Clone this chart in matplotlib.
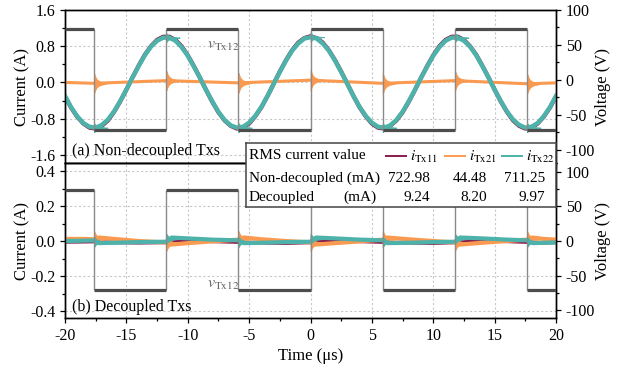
import numpy as np
import matplotlib
matplotlib.use("Agg")
import matplotlib.pyplot as plt
from matplotlib.ticker import MultipleLocator, FormatStrFormatter

plt.rcParams["font.family"] = ["Liberation Serif", "DejaVu Serif"]
plt.rcParams["mathtext.fontset"] = "stix"
plt.rcParams["axes.unicode_minus"] = False
plt.rcParams["font.size"] = 11

C_TX11 = "#8b1a4b"
C_TX21 = "#fa9a50"
C_TX22 = "#4db2aa"
C_V = "#4d4d4d"

# ---- data ----
t_top = np.arange(-20, 20.01, 0.5)  # us
i_tx11_top = [-0.31, -0.56, -0.76, -0.91, -1.00, -1.02, -0.96, -0.84, -0.65, -0.42,
              -0.16, 0.11, 0.37, 0.61, 0.80, 0.94, 1.01, 1.01, 0.94, 0.80,
              0.60, 0.36, 0.10, -0.17, -0.43, -0.66, -0.84, -0.96, -1.02, -1.00,
              -0.91, -0.75, -0.55, -0.30, -0.03, 0.24, 0.49, 0.71, 0.88, 0.98,
              1.02, 0.98, 0.88, 0.71, 0.49, 0.24, -0.03, -0.30, -0.55, -0.75,
              -0.91, -1.00, -1.02, -0.96, -0.84, -0.66, -0.43, -0.17, 0.10, 0.36,
              0.60, 0.80, 0.94, 1.01, 1.01, 0.94, 0.80, 0.61, 0.37, 0.11,
              -0.16, -0.42, -0.65, -0.84, -0.96, -1.02, -1.00, -0.91, -0.76, -0.56,
              -0.31]
i_tx22_top = [-0.30, -0.55, -0.75, -0.90, -0.98, -1.00, -0.94, -0.82, -0.64, -0.41,
              -0.16, 0.11, 0.36, 0.60, 0.79, 0.92, 0.99, 0.99, 0.92, 0.78,
              0.59, 0.35, 0.10, -0.17, -0.42, -0.65, -0.83, -0.95, -1.00, -0.98,
              -0.89, -0.74, -0.54, -0.30, -0.03, 0.23, 0.48, 0.70, 0.86, 0.97,
              1.00, 0.97, 0.86, 0.70, 0.48, 0.23, -0.03, -0.30, -0.54, -0.74,
              -0.89, -0.98, -1.00, -0.95, -0.83, -0.65, -0.42, -0.17, 0.10, 0.35,
              0.59, 0.78, 0.92, 0.99, 0.99, 0.92, 0.79, 0.60, 0.36, 0.11,
              -0.16, -0.41, -0.64, -0.82, -0.94, -1.00, -0.98, -0.90, -0.75, -0.55,
              -0.30]
t_tx21_top = [-20, -17.64, -11.76, -5.88, 0, 5.88, 11.76, 17.64, 20]
i_tx21_top = [0.0, -0.02, 0.04, -0.01, 0.05, -0.02, 0.04, -0.03, -0.01]

t_bot = [-20, -18.5, -17.64, -17.2, -16, -14, -11.76, -11.3, -10, -8,
         -5.88, -5.4, -4, -2, 0, 0.45, 2, 4, 5.88, 6.3,
         8, 10, 11.76, 12.2, 14, 16, 17.64, 18.1, 19, 20]
i_tx11_bot = [-0.005, -0.004, -0.003, -0.006, -0.008, -0.01, -0.008, 0.005, 0.004, -0.002,
              -0.006, -0.008, -0.01, -0.012, -0.008, 0.004, 0.003, -0.002, -0.006, -0.008,
              -0.01, -0.012, -0.008, 0.004, 0.003, -0.002, -0.006, -0.008, -0.01, -0.008]
i_tx21_bot = [0.012, 0.012, 0.01, 0.02, 0.012, 0.0, -0.008, -0.02, -0.012, -0.002,
              0.008, 0.02, 0.01, 0.0, -0.008, -0.02, -0.012, -0.002, 0.008, 0.02,
              0.01, 0.0, -0.008, -0.02, -0.01, 0.0, 0.008, 0.02, 0.012, 0.008]
i_tx22_bot = [0.0, 0.002, 0.003, -0.012, -0.01, -0.006, -0.004, 0.02, 0.015, 0.008,
              0.004, -0.012, -0.01, -0.006, -0.004, 0.02, 0.015, 0.008, 0.004, -0.012,
              -0.01, -0.006, -0.004, 0.02, 0.015, 0.008, 0.004, -0.012, -0.01, -0.008]

# square-wave voltage v_Tx12: switching instants and level of each half period
v_edges = [-20, -17.64, -11.76, -5.88, 0.0, 5.88, 11.76, 17.64, 20]
v_top = [73, -71, 73, -71, 73, -71, 73, -71]
v_bot = [73.5, -70.5, 73.5, -70.5, 73.5, -70.5, 73.5, -70.5]

# ringing after each switching instant: value at the edge and burst size
sw_times = v_edges[1:-1]
ring_dt = [0.0, 0.03, 0.1, 0.2, 0.35, 0.55, 0.8, 1.1]
ring_env = [1.0, 0.95, 0.7, 0.45, 0.28, 0.16, 0.09, 0.0]
tx22_top_at_sw = [-1.0, 0.99, -1.0, 1.0, -1.0, 0.99, -1.0]
tx21_top_at_sw = [-0.02, 0.04, -0.01, 0.05, -0.02, 0.04, -0.03]
tx21_bot_at_sw = [0.012, -0.012, 0.012, -0.012, 0.012, -0.012, 0.012]
tx22_bot_at_sw = [-0.004, 0.012, -0.004, 0.012, -0.004, 0.012, -0.004]

# table values (mA)
rms_nondec = ["722.98", "44.48", "711.25"]
rms_dec = ["9.24", "8.20", "9.97"]
series_labels = [r"$i_{\mathrm{Tx11}}$", r"$i_{\mathrm{Tx21}}$", r"$i_{\mathrm{Tx22}}$"]


def rings(ax, centers, amp, color, z):
    for t0, c in zip(sw_times, centers):
        x = [t0 + d for d in ring_dt]
        a = [amp * e for e in ring_env]
        ax.fill_between(x, [c - v for v in a], [c + v for v in a],
                        color=color, lw=0.6, zorder=z)


def square(axv, levels):
    axv.hlines(levels, v_edges[:-1], v_edges[1:], color=C_V, lw=2.3, zorder=5)
    lo = np.minimum(levels[:-1], levels[1:])
    hi = np.maximum(levels[:-1], levels[1:])
    axv.vlines(v_edges[1:-1], lo, hi, color="#8a8a8a", lw=1.0, zorder=4)


def style(ax, axv):
    ax.set_xlim(-20, 20)
    ax.xaxis.set_major_locator(MultipleLocator(5))
    ax.xaxis.set_minor_locator(MultipleLocator(2.5))
    ax.grid(True, color="#c8c8c8", linestyle=(0, (2, 2)), lw=0.8)
    ax.set_axisbelow(True)
    for a in (ax, axv):
        a.tick_params(which="both", direction="out", labelsize=11.5, width=0.9)
        a.tick_params(which="major", length=3.5)
        a.tick_params(which="minor", length=2)
        for s in a.spines.values():
            s.set_linewidth(1.0)
    axv.yaxis.set_major_locator(MultipleLocator(50))
    axv.yaxis.set_minor_locator(MultipleLocator(25))
    axv.set_ylabel("Voltage (V)", fontsize=12, labelpad=0)
    ax.set_ylabel("Current (A)", fontsize=12, labelpad=0)
    ax.yaxis.set_major_formatter(FormatStrFormatter("%.1f"))


fig = plt.figure(figsize=(6.25, 3.69), dpi=100)
L, W = 65 / 625, 491 / 625
ax1 = fig.add_axes([L, 1 - 163 / 369, W, 153 / 369])
ax2 = fig.add_axes([L, 1 - 318 / 369, W, 155 / 369])
ax1v = ax1.twinx()
ax2v = ax2.twinx()

# (a) non-decoupled
ax1.plot(t_top, i_tx11_top, color=C_TX11, lw=3.0, zorder=2)
ax1.plot(t_tx21_top, i_tx21_top, color=C_TX21, lw=2.2, zorder=3)
rings(ax1, tx21_top_at_sw, 0.22, C_TX21, 3)
ax1.plot(t_top, i_tx22_top, color=C_TX22, lw=3.2, zorder=4)
rings(ax1, tx22_top_at_sw, 0.1, C_TX22, 4)
square(ax1v, v_top)
ax1.set_ylim(-1.78, 1.6)
ax1.yaxis.set_major_locator(MultipleLocator(0.8))
ax1.yaxis.set_minor_locator(MultipleLocator(0.4))
ax1v.set_ylim(-118.6, 100)
style(ax1, ax1v)
ax1.tick_params(axis="x", labelbottom=False)
ax1.text(-8.45, 0.82, r"$v_{\mathrm{Tx12}}$", color="#666666", fontsize=11.5,
         ha="left", va="center", zorder=6)
ax1.text(0.014, 0.078, "(a) Non-decoupled Txs", transform=ax1.transAxes,
         fontsize=11.5, ha="left", va="center")

# (b) decoupled
ax2.plot(t_bot, i_tx11_bot, color=C_TX11, lw=2.6, zorder=2)
ax2.plot(t_bot, i_tx21_bot, color=C_TX21, lw=3.0, zorder=3)
rings(ax2, tx21_bot_at_sw, 0.045, C_TX21, 3)
ax2.plot(t_bot, i_tx22_bot, color=C_TX22, lw=3.0, zorder=4)
rings(ax2, tx22_bot_at_sw, 0.03, C_TX22, 4)
square(ax2v, v_bot)
ax2.set_ylim(-0.44, 0.446)
ax2.yaxis.set_major_locator(MultipleLocator(0.2))
ax2.yaxis.set_minor_locator(MultipleLocator(0.1))
ax2v.set_ylim(-111, 112.5)
style(ax2, ax2v)
ax2.set_xlabel("Time (μs)", fontsize=12, labelpad=3)
ax2.text(-8.45, -0.245, r"$v_{\mathrm{Tx12}}$", color="#666666", fontsize=11.5,
         ha="left", va="center", zorder=6)
ax2.text(0.014, 0.073, "(b) Decoupled Txs", transform=ax2.transAxes,
         fontsize=11.5, ha="left", va="center")

# RMS table box (drawn in box pixel units)
tab = fig.add_axes([246 / 625, 1 - 207 / 369, 310 / 625, 64 / 369])
tab.set_zorder(10)
tab.set_xlim(0, 310)
tab.set_ylim(64, 0)
tab.set_xticks([])
tab.set_yticks([])
for s in tab.spines.values():
    s.set_edgecolor("#444444")
    s.set_linewidth(1.1)
rows_y = [12.5, 35.5, 54]
tab.text(3, rows_y[0], "RMS current value", ha="left", va="center")
tab.text(3, rows_y[1], "Non-decoupled (mA)", ha="left", va="center")
tab.text(3, rows_y[2], "Decoupled", ha="left", va="center")
tab.text(131, rows_y[2], "(mA)", ha="right", va="center")
num_x = [184, 241, 299]
for x, a, b in zip(num_x, rms_nondec, rms_dec):
    tab.text(x, rows_y[1], a, ha="right", va="center")
    tab.text(x, rows_y[2], b, ha="right", va="center")
for x0, col, lab in zip([140, 199, 256], [C_TX11, C_TX21, C_TX22], series_labels):
    tab.plot([x0, x0 + 20], [rows_y[0], rows_y[0]], color=col, lw=1.4)
    tab.text(x0 + 24, rows_y[0] + 1, lab, ha="left", va="center", fontsize=11)

fig.savefig("out.png", dpi=100)
